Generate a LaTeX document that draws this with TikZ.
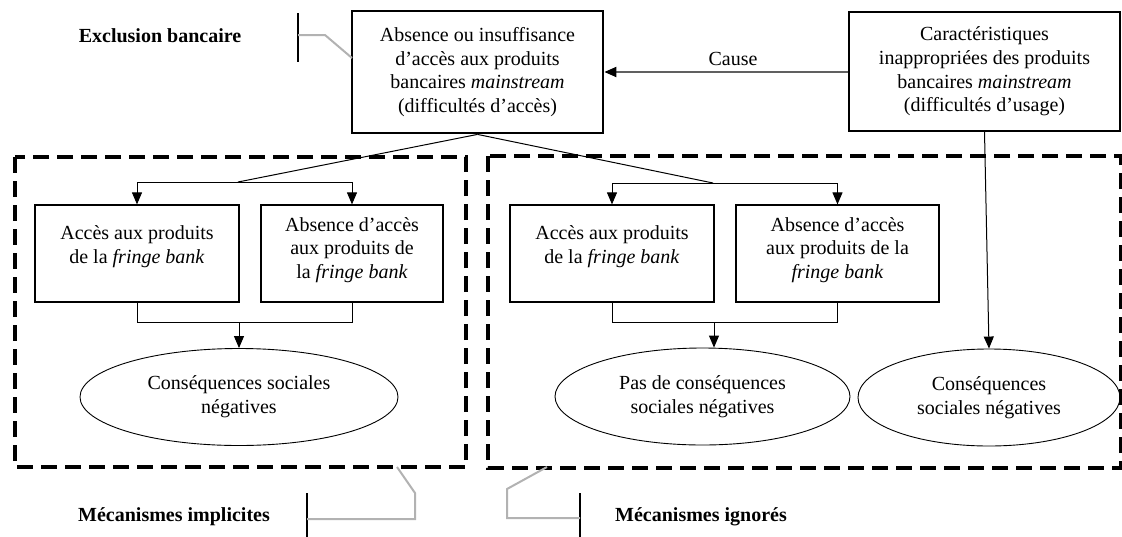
\documentclass[tikz,border=0pt]{standalone}
\usepackage{fontspec}
\setmainfont{Liberation Serif}
\usetikzlibrary{shapes.geometric,arrows.meta}
\begin{document}
\begin{tikzpicture}[x=1pt,y=-1pt,
  every node/.style={font=\fontsize{20}{23.7}\selectfont, inner sep=0pt, align=center},
  mainbox/.style={draw, line width=2.8pt, minimum width=251pt, minimum height=122pt},
  sidebox/.style={draw, line width=1.2pt, minimum width=271pt, minimum height=119pt},
  panelbox/.style={draw, line width=1.2pt, minimum width=#1, minimum height=97pt},
  conseq/.style={draw, ellipse, line width=0.9pt, minimum width=#1, minimum height=97pt},
  arr/.style={-{Triangle[length=12pt,width=10pt]}, line width=1pt},
  link/.style={line width=1pt},
  causearrow/.style={-{Triangle[length=12pt,width=10pt,color=black]}, line width=2pt, draw=gray!75!black},
  frame/.style={draw, line width=3.5pt, dash pattern=on 16pt off 8pt},
  callout/.style={draw=gray!60, line width=2pt},
  bar/.style={line width=1.3pt},
  tag/.style={font=\fontsize{20}{23.7}\selectfont\bfseries}
]
\useasboundingbox (0,0) rectangle (1122,536);

% dashed frames
\draw[frame] (15,157) rectangle (466,467);
\draw[frame] (488,156) rectangle (1121,468);

% top boxes
\node[mainbox] (top) at (477.5,72) {Absence ou insuffisance\\d’accès aux produits\\bancaires \textit{mainstream}\\(difficultés d’accès)};
\node[sidebox] (rb) at (984.5,71.5) {Caractéristiques\\inappropriées des produits\\bancaires \textit{mainstream}\\(difficultés d’usage)};
\draw[causearrow] (rb.west |- 0,72) coordinate (cs) -- (top.east |- cs);
\node (cause) at (733,59) {Cause};

% panel boxes
\node[panelbox=204pt] (b1) at (137,253.5) {};
\node (b1t) at (137,246.5) {Accès aux produits\\de la \textit{fringe bank}};
\node[panelbox=182pt] (b2) at (352,253.5) {};
\node (b2t) at (352,250) {Absence d’accès\\aux produits de\\la \textit{fringe bank}};
\node[panelbox=204pt] (b3) at (612,253.5) {};
\node (b3t) at (612,246.5) {Accès aux produits\\de la \textit{fringe bank}};
\node[panelbox=203pt] (b4) at (837.5,253.5) {};
\node (b4t) at (837.5,250) {Absence d’accès\\aux produits de la\\\textit{fringe bank}};

% ellipses
\node[conseq=318pt] (e1) at (239,397) {Conséquences sociales\\négatives};
\node[conseq=295pt] (e2) at (702.5,396.5) {Pas de conséquences\\sociales négatives};
\node[conseq=262pt] (e3) at (989,397.5) {Conséquences\\sociales négatives};

% split from top box
\coordinate (s1) at (238,182);
\coordinate (s2) at (713,183);
\draw[link] (top.south) -- (s1);
\draw[link] (top.south) -- (s2);
\draw[arr] (s1) -| (b1.north);
\draw[arr] (s1) -| (b2.north);
\draw[arr] (s2) -| (b3.north);
\draw[arr] (s2) -| (b4.north);

% joins
\coordinate (j1) at (239,322.5);
\coordinate (j2) at (714,322.5);
\draw[link] (b1.south) |- (j1) -| (b2.south);
\draw[link] (b3.south) |- (j2) -| (b4.south);
\draw[arr] (j1) -- (e1.north);
\draw[arr] (j2) -- (j2 |- e2.north);
\draw[arr] (rb.south) -- (e3.north);

% callouts
\node[tag] (excl) at (160,36) {Exclusion bancaire};
\draw[bar] (298,13) coordinate (ea) -- (298,62);
\draw[callout] (298,35) -- (325,35) -- (352,58);

\node[tag] (impl) at (174,517) {Mécanismes implicites};
\draw[bar] (307,493) -- (307,540);
\draw[callout] (307,519) -- (415,519) -- (415,493) -- (397,467);

\node[tag, anchor=west] (ign) at (615,517) {Mécanismes ignorés};
\draw[bar] (580,493) -- (580,540);
\draw[callout] (580,518) -- (507,518) -- (507,489) -- (547,467);
\end{tikzpicture}
\end{document}
